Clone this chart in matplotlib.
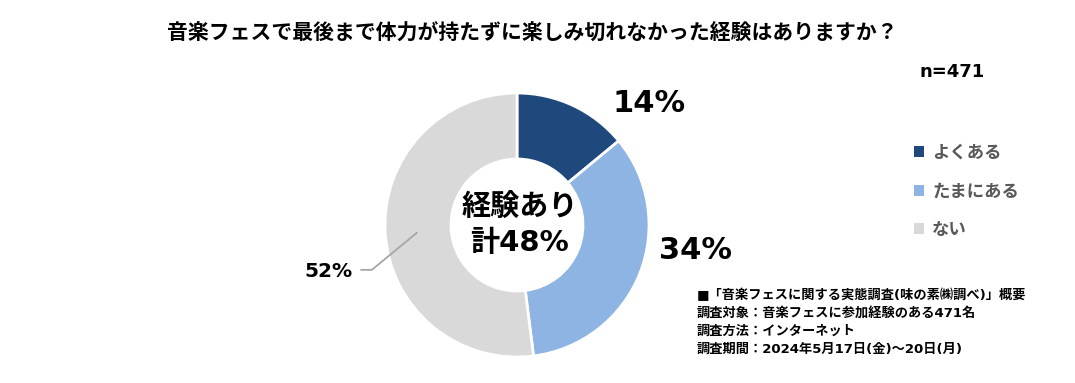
import matplotlib
matplotlib.use("Agg")
import matplotlib.pyplot as plt
from matplotlib.patches import Patch

plt.rcParams['font.family'] = ['Noto Sans CJK JP', 'DejaVu Sans']
LATIN_FIRST = ['DejaVu Sans', 'Noto Sans CJK JP']

# ---- data ----
categories = ["よくある", "たまにある", "ない"]
values = [14, 34, 52]
colors = ["#1F497D", "#8DB4E2", "#D9D9D9"]
title = "音楽フェスで最後まで体力が持たずに楽しみ切れなかった経験はありますか？"
n_text = "n=471"
center_text = "経験あり\n計48%"
notes = ["■「音楽フェスに関する実態調査(味の素㈱調べ)」概要",
         "調査対象：音楽フェスに参加経験のある471名",
         "調査方法：インターネット",
         "調査期間：2024年5月17日(金)～20日(月)"]

W, H = 1075, 383
fig = plt.figure(figsize=(W / 100, H / 100), dpi=100)
fig.patch.set_facecolor("white")

cx, cy, R = 517, H - 225, 132
ax = fig.add_axes([(cx - R) / W, (cy - R) / H, 2 * R / W, 2 * R / H])
wedges, _ = ax.pie(values, colors=colors, startangle=90, counterclock=False,
                   radius=1.0, wedgeprops=dict(width=0.5, edgecolor="white", linewidth=2))
ax.set_xlim(-1, 1)
ax.set_ylim(-1, 1)
ax.set_aspect("equal")
ax.axis("off")

# percent labels (positions relative to pie, in radius units)
label_pos = [(1.00, 0.92), (1.35, -0.19), (-1.43, -0.35)]
label_size = [22, 22, 14.5]
for v, (x, y), s in zip(values, label_pos, label_size):
    ax.text(x, y, f"{v}%", ha="center", va="center", fontsize=s,
            fontweight="bold", color="black", clip_on=False, family=LATIN_FIRST)

# leader line for 52%
ax.plot([-1.18, -1.10, -0.76], [-0.34, -0.34, -0.06], color="#A6A6A6",
        lw=1.3, clip_on=False)

# center text
ax.text(0.02, 0.0, center_text, ha="center", va="center", fontsize=21,
        fontweight="bold", color="black", linespacing=1.38, family=LATIN_FIRST)

# title
fig.text(532 / W, 1 - 33 / H, title, ha="center", va="center",
         fontsize=15, fontweight="bold", color="black")
fig.text(952 / W, 1 - 72 / H, n_text, ha="center", va="center",
         fontsize=13, fontweight="bold", color="black", family=LATIN_FIRST)

# legend
handles = [Patch(facecolor=c, edgecolor="none") for c in colors]
leg = fig.legend(handles, categories, loc="upper left",
                 bbox_to_anchor=(914 / W, 1 - 144 / H), frameon=False,
                 prop=dict(size=12.5, weight="bold"), labelcolor="#595959",
                 handlelength=0.6, handleheight=0.6, handletextpad=0.45,
                 labelspacing=1.17, borderaxespad=0, borderpad=0)

# notes
for i, line in enumerate(notes):
    fig.text(697 / W, 1 - (295 + 18 * i) / H, line, ha="left", va="center",
             fontsize=9.5, fontweight="bold", color="black", family=LATIN_FIRST)

fig.savefig("out.png", dpi=100, facecolor="white")
